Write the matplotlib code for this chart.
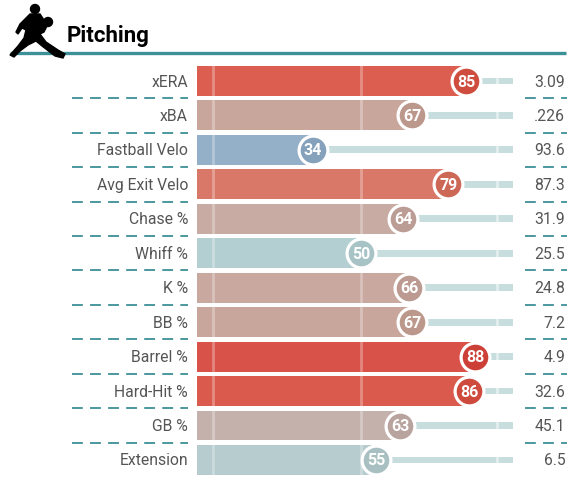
import matplotlib
matplotlib.use("Agg")
import matplotlib.pyplot as plt
from matplotlib.patches import Polygon, Circle
import numpy as np

metrics = ["xERA", "xBA", "Fastball Velo", "Avg Exit Velo", "Chase %", "Whiff %",
           "K %", "BB %", "Barrel %", "Hard-Hit %", "GB %", "Extension"]
percentiles = [85, 67, 34, 79, 64, 50, 66, 67, 88, 86, 63, 55]
stat_values = ["3.09", ".226", "93.6", "87.3", "31.9", "25.5",
               "24.8", "7.2", "4.9", "32.6", "45.1", "6.5"]
bar_colors = ["#db5e50", "#c9a69b", "#94afc8", "#d97868", "#c8aba3", "#b4cfd1",
              "#c9a8a0", "#c9a69b", "#d9524a", "#da5b4e", "#c5b1ac", "#b6ccce"]

teal = "#3d9097"
track = "#c8dddd"
txt = "#555555"
plt.rcParams['font.family'] = ['Roboto', 'DejaVu Sans']

W, H = 582, 500
fig = plt.figure(figsize=(W / 100, H / 100), dpi=100)

# main axes: x in percentile units, y in rows
x0px, xscale = 210.3, 3.013
y0px, yscale = 81.0, 34.45
ax = fig.add_axes([0, 0, 1, 1])
ax.set_xlim((0 - x0px) / xscale, (W - x0px) / xscale)
ax.set_ylim((H - y0px) / yscale, (0 - y0px) / yscale)
ax.axis("off")

bar_h = 0.87
bar_start = -4.5
track_end = 100.3

def darker(c):
    rgb = np.array(matplotlib.colors.to_rgb(c))
    return tuple(np.clip((rgb - 0.08) / 0.92 * 0.96, 0, 1))

n = len(metrics)
for i in range(n):
    v = percentiles[i]
    # background track
    ax.barh(i, track_end - v, left=v, height=0.2, color=track, zorder=1)
    ax.plot([95, 95], [i - 0.1, i + 0.1], color="white", alpha=0.5, lw=2, zorder=1.5)
    # bar
    ax.barh(i, v - bar_start, left=bar_start, height=bar_h, color=bar_colors[i], zorder=2)
    for g in (1, 50):
        if g < v:
            ax.plot([g, g], [i - bar_h / 2, i + bar_h / 2], color="white", alpha=0.3, lw=2, zorder=2.5)
    # circle
    ax.scatter([v], [i], s=430, color=darker(bar_colors[i]), edgecolor="white",
               linewidth=2.3, zorder=3)
    ax.text(v, i + 0.03, str(v), color="white", fontsize=11.5, fontweight="bold",
            ha="center", va="center", zorder=4)
    # labels
    ax.text(-7.4, i + 0.03, metrics[i], ha="right", va="center", fontsize=11.3, color=txt)
    ax.text(117.8, i + 0.03, stat_values[i], ha="right", va="center", fontsize=11.3, color=txt)

# dashed separators
for i in range(n - 1):
    y = i + 0.5
    ax.plot([-46.0, -7.4], [y, y], color=teal, lw=1.3, dashes=(6, 4), zorder=1)
    ax.plot([104.4, 118.4], [y, y], color=teal, lw=1.3, dashes=(6, 4), zorder=1)

# header overlay in pixel coordinates
hx = fig.add_axes([0, 0, 1, 1])
hx.set_xlim(0, W)
hx.set_ylim(H, 0)
hx.axis("off")
hx.patch.set_alpha(0)
hx.plot([10, 566], [52.5, 52.5], color=teal, lw=2.4, solid_capstyle="butt")
hx.text(67, 42, "Pitching", fontsize=16, fontweight="bold", color="black",
        ha="left", va="baseline")

# simple pitcher silhouette
body = [(30, 14), (40, 14), (44, 20), (47, 26), (44, 32), (40, 34), (46, 42),
        (58, 50), (65, 54), (63, 58), (55, 56), (42, 46), (36, 41), (28, 45),
        (20, 51), (14, 57), (10, 55), (18, 46), (24, 38), (26, 30), (22, 28),
        (18, 34), (16, 32), (20, 24), (26, 18)]
hx.add_patch(Polygon(body, closed=True, color="black", zorder=5))
hx.add_patch(Circle((35, 9), 4.5, color="black", zorder=5))
hx.add_patch(Circle((48, 22), 4.5, color="black", zorder=5))

fig.savefig("out.png", dpi=100)
